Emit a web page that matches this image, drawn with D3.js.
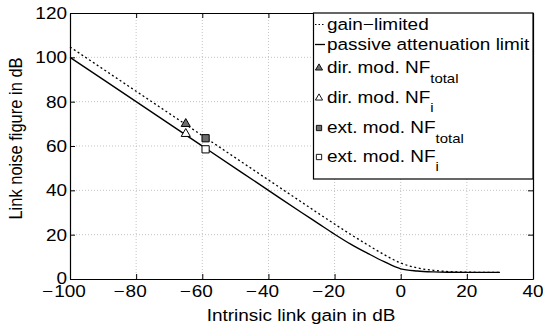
<!DOCTYPE html>
<html>
<head>
<meta charset="utf-8">
<script src="https://cdn.jsdelivr.net/npm/d3@7"></script>
<style>
  html, body { margin: 0; padding: 0; background: #fff; }
  svg { display: block; font-family: "Liberation Sans", Arial, Helvetica, sans-serif; }
</style>
</head>
<body>
<svg id="chart" width="543" height="327"></svg>
<script>
// Intrinsic link gain (dB) sampled along both noise-figure curves
const gainDb = [-100, -80, -60, -40, -30, -25, -20, -15, -10, -5, 0, 5, 10, 15, 20, 25, 30];
// Noise figure bound for a passive (attenuating) link, dB
const passiveNF = [100, 80, 60, 40, 30, 25.1, 20.2, 15.6, 11.6, 7.8, 4.6, 3.6, 3.2, 3.05, 3.0, 3.0, 3.0];
// Noise figure bound for a gain-limited link, dB
const gainLimitedNF = [104.7, 84.7, 64.7, 44.7, 34.7, 29.7, 24.8, 20.0, 15.4, 11.0, 7.2, 5.0, 3.9, 3.3, 3.1, 3.0, 3.0];

// Modulation examples: directly and externally modulated links
const modGain = [-65, -65, -59, -59];
const modNF = [70, 65.5, 63.5, 58.5];
const modShape = ["triangle", "triangle", "square", "square"];
const modFill = ["#6e6e6e", "#ffffff", "#6e6e6e", "#ffffff"];
const modName = ["dir. mod. NF", "dir. mod. NF", "ext. mod. NF", "ext. mod. NF"];
const modSub = ["total", "i", "total", "i"];

const xTicks = [-100, -80, -60, -40, -20, 0, 20, 40];
const yTicks = [0, 20, 40, 60, 80, 100, 120];

const FS = 16.5;   // font size
const SX = 1.15;   // horizontal text width factor

const svg = d3.select("#chart");
const x = d3.scaleLinear().domain([-100, 40]).range([70, 533]);
const y = d3.scaleLinear().domain([0, 120]).range([279, 13]);

function label(g, px, py, str, anchor, size) {
  return g.append("text")
    .attr("transform", `translate(${px},${py}) scale(${SX},1)`)
    .attr("text-anchor", anchor)
    .attr("font-size", size || FS)
    .attr("fill", "#000")
    .text(str);
}

// grid
const grid = svg.append("g").attr("stroke", "#b4b4b4").attr("stroke-width", 0.8)
  .attr("stroke-dasharray", "1,2");
grid.selectAll("line.vx").data(xTicks.slice(1, -1)).join("line")
  .attr("x1", d => x(d)).attr("x2", d => x(d)).attr("y1", y(0)).attr("y2", y(120));
grid.selectAll("line.hy").data(yTicks.slice(1, -1)).join("line")
  .attr("x1", x(-100)).attr("x2", x(40)).attr("y1", d => y(d)).attr("y2", d => y(d));

// curves
const line = d3.line().x((d, i) => x(gainDb[i])).y(d => y(d)).curve(d3.curveMonotoneX);
svg.append("path").datum(gainLimitedNF).attr("d", line)
  .attr("fill", "none").attr("stroke", "#000").attr("stroke-width", 1.3)
  .attr("stroke-dasharray", "2,2.6");
svg.append("path").datum(passiveNF).attr("d", line)
  .attr("fill", "none").attr("stroke", "#000").attr("stroke-width", 1.4);

// markers
const symType = s => s === "triangle" ? d3.symbolTriangle : d3.symbolSquare;
svg.append("g").selectAll("path").data(modGain).join("path")
  .attr("transform", (d, i) => `translate(${x(d)},${y(modNF[i])})`)
  .attr("d", (d, i) => d3.symbol().type(symType(modShape[i])).size(modShape[i] === "triangle" ? 36 : 52)())
  .attr("fill", (d, i) => modFill[i]).attr("stroke", "#000").attr("stroke-width", 1);

// axes (ticks pointing inward on all four sides)
const axisStyle = g => {
  g.selectAll("path.domain").attr("stroke", "#000").attr("stroke-width", 1.2);
  g.selectAll(".tick line").attr("stroke", "#000").attr("stroke-width", 1);
  g.selectAll(".tick text").remove();
};
svg.append("g").attr("transform", `translate(0,${y(0)})`)
  .call(d3.axisBottom(x).tickValues(xTicks).tickSizeInner(-5).tickSizeOuter(0).tickFormat("")).call(axisStyle);
svg.append("g").attr("transform", `translate(0,${y(120)})`)
  .call(d3.axisTop(x).tickValues(xTicks).tickSizeInner(-5).tickSizeOuter(0).tickFormat("")).call(axisStyle);
svg.append("g").attr("transform", `translate(${x(-100)},0)`)
  .call(d3.axisLeft(y).tickValues(yTicks).tickSizeInner(-5).tickSizeOuter(0).tickFormat("")).call(axisStyle);
svg.append("g").attr("transform", `translate(${x(40)},0)`)
  .call(d3.axisRight(y).tickValues(yTicks).tickSizeInner(-5).tickSizeOuter(0).tickFormat("")).call(axisStyle);

// tick labels: digits centred on the tick, minus sign hanging to the left
const tl = svg.append("g");
xTicks.forEach(v => {
  const digits = String(Math.abs(v));
  const t = label(tl, x(v), 297, digits, "middle");
  if (v < 0) {
    const w = t.node().getComputedTextLength() * SX;
    label(tl, x(v) - w / 2 - 1, 297, "\u2212", "end");
  }
});
yTicks.forEach(v => label(tl, 67, y(v) + (v === 0 ? 5 : 6), String(v), "end"));

// axis titles
label(svg, 301, 321, "Intrinsic link gain in dB", "middle");
svg.append("text")
  .attr("transform", `translate(22,138.5) rotate(-90) scale(1,${SX})`)
  .attr("text-anchor", "middle").attr("font-size", FS).text("Link noise figure in dB");

// legend
const lg = svg.append("g");
lg.append("rect").attr("x", 313.5).attr("y", y(120)).attr("width", x(40) - 313.5).attr("height", 166)
  .attr("fill", "#fff").attr("stroke", "#000").attr("stroke-width", 1.2);
const tx = 327;
lg.append("line").attr("x1", 315).attr("x2", 325).attr("y1", 24.5).attr("y2", 24.5)
  .attr("stroke", "#000").attr("stroke-width", 1.2).attr("stroke-dasharray", "1.5,2");
label(lg, tx, 30, "gain\u2212limited", "start");
lg.append("line").attr("x1", 315).attr("x2", 325).attr("y1", 44.5).attr("y2", 44.5)
  .attr("stroke", "#000").attr("stroke-width", 1.3);
label(lg, tx, 50, "passive attenuation limit", "start");

const rowBase = [73, 103, 133, 162];
const subDrop = [10, 9, 10, 9];
modName.forEach((name, i) => {
  lg.append("path")
    .attr("transform", `translate(319,${rowBase[i] - 5})`)
    .attr("d", d3.symbol().type(symType(modShape[i])).size(modShape[i] === "triangle" ? 22 : 28)())
    .attr("fill", modFill[i]).attr("stroke", "#000").attr("stroke-width", 0.9);
  const t = label(lg, tx, rowBase[i], name, "start");
  t.append("tspan").attr("dy", subDrop[i]).attr("font-size", 13).text(modSub[i]);
});
</script>
</body>
</html>
